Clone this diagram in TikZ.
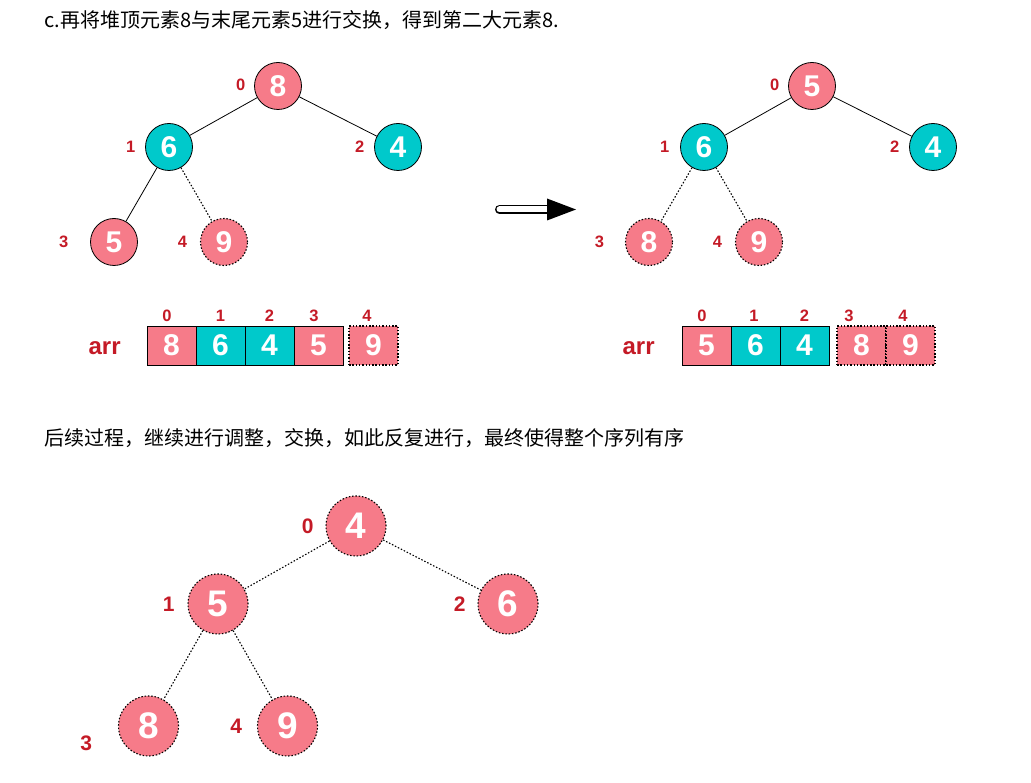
\documentclass[tikz,border=0pt]{standalone}
\usepackage{fontspec}
\setmainfont{Liberation Sans}
\newfontfamily\cjk{Noto Sans CJK SC}
\usetikzlibrary{positioning}

\definecolor{heappink}{RGB}{246,123,137}
\definecolor{heapteal}{RGB}{0,201,203}
\definecolor{idxred}{RGB}{196,26,38}

\tikzset{
  heap/.style={circle, draw, minimum size=47pt, inner sep=0pt, text=white, font=\bfseries\fontsize{30}{30}\selectfont},
  pinkheap/.style={heap, fill=heappink},
  tealheap/.style={heap, fill=heapteal},
  bigheap/.style={heap, fill=heappink, minimum size=60pt, font=\bfseries\fontsize{37}{37}\selectfont},
  loose/.style={dash pattern=on 1.5pt off 1.8pt, line width=1.1pt},
  idx/.style={inner sep=0pt, text height=11.8pt, text depth=0pt, text=idxred, font=\bfseries\fontsize{16.5}{16.5}\selectfont},
  bigidx/.style={idx, text height=15pt, font=\bfseries\fontsize{21}{21}\selectfont},
  cell/.style={rectangle, draw, minimum width=49pt, minimum height=39pt, inner sep=0pt, outer sep=0pt, text=white, font=\bfseries\fontsize{30}{30}\selectfont},
  pinkcell/.style={cell, fill=heappink},
  tealcell/.style={cell, fill=heapteal},
  arrname/.style={inner sep=0pt, text=idxred, font=\bfseries\fontsize{24}{24}\selectfont},
  caption/.style={anchor=west, inner sep=0pt, font=\cjk\fontsize{20}{20}\selectfont}
}

\begin{document}
\begin{tikzpicture}[x=1pt, y=1pt, line width=0.8pt]
\useasboundingbox (0,0) rectangle (1031,-783);

\node[caption] (title) at (44,-20) {c.再将堆顶元素8与末尾元素5进行交换，得到第二大元素8.};

% heap before the swap
\node[pinkheap] (lroot) at (278,-86) {8}
[level distance=61pt, sibling distance=229pt]
child[xshift=5.5pt] {node[tealheap] (lone) {6}
   [level distance=95pt, sibling distance=110pt]
   child {node[pinkheap] (lthree) {5}}
   child {node[pinkheap, loose] (lfour) {9} edge from parent[loose]}
}
child[xshift=5.5pt] {node[tealheap] (ltwo) {4}};

\node[idx, left=8.5pt of lroot, yshift=1.5pt] (li0) {0};
\node[idx, left=9.5pt of lone] (li1) {1};
\node[idx, left=9.5pt of ltwo] (li2) {2};
\node[idx, left=21.5pt of lthree] (li3) {3};
\node[idx, left=12.5pt of lfour] (li4) {4};

% array before the swap
\node[pinkcell] (la0) at (171.5,-345.5) {8};
\node[tealcell, right=0pt of la0] (la1) {6};
\node[tealcell, right=0pt of la1] (la2) {4};
\node[pinkcell, right=0pt of la2] (la3) {5};
\node[pinkcell, loose, right=6pt of la3] (la4) {9};
\node[arrname, left=26pt of la0, yshift=-2.5pt] (larr) {arr};
\foreach \i/\dx in {0/-4.5, 1/0, 2/0, 3/-4.5, 4/-6.5}
  \node[idx, above=4.5pt of la\i, xshift=\dx pt] (lai\i) {\i};

% arrow
\coordinate (arrtail) at (499.5,-209.5);
\coordinate (arrtip) at (576,-209.5);
\draw[line width=1.5pt, double=white, double distance=6pt, line cap=round] (arrtail) -- ([xshift=-27pt]arrtip);
\fill (arrtip) -- ++(-29,11) -- ++(0,-22) -- cycle;

% heap after the swap
\node[pinkheap] (rroot) at (812,-86) {5}
[level distance=61pt, sibling distance=229pt]
child[xshift=6.5pt] {node[tealheap] (rone) {6}
   [level distance=95pt, sibling distance=110pt]
   child {node[pinkheap, loose] (rthree) {8} edge from parent[loose]}
   child {node[pinkheap, loose] (rfour) {9} edge from parent[loose]}
}
child[xshift=6.5pt] {node[tealheap] (rtwo) {4}};

\node[idx, left=8.5pt of rroot, yshift=1.5pt] (ri0) {0};
\node[idx, left=10.5pt of rone] (ri1) {1};
\node[idx, left=9.5pt of rtwo] (ri2) {2};
\node[idx, left=20.5pt of rthree] (ri3) {3};
\node[idx, left=12.5pt of rfour] (ri4) {4};

% array after the swap
\node[pinkcell] (ra0) at (706.5,-345.5) {5};
\node[tealcell, right=0pt of ra0] (ra1) {6};
\node[tealcell, right=0pt of ra1] (ra2) {4};
\node[pinkcell, loose, right=8pt of ra2] (ra3) {8};
\node[pinkcell, loose, right=0pt of ra3] (ra4) {9};
\node[arrname, left=27pt of ra0, yshift=-2.5pt] (rarr) {arr};
\foreach \i/\dx in {0/-4.5, 1/-1.5, 2/0, 3/-12.5, 4/-7.5}
  \node[idx, above=4.5pt of ra\i, xshift=\dx pt] (rai\i) {\i};

\node[caption] (follow) at (44,-438) {后续过程，继续进行调整，交换，如此反复进行，最终使得整个序列有序};

% final heap
\node[bigheap, loose] (broot) at (356,-526) {4}
[level distance=78pt, sibling distance=290pt, edge from parent/.style={draw, loose}]
child[xshift=7pt] {node[bigheap, loose] (bone) {5}
   [level distance=122pt, sibling distance=139pt]
   child {node[bigheap, loose] (bthree) {8}}
   child {node[bigheap, loose] (bfour) {9}}
}
child[xshift=7pt] {node[bigheap, loose] (btwo) {6}};

\node[bigidx, left=11.5pt of broot] (bi0) {0};
\node[bigidx, left=12.5pt of bone] (bi1) {1};
\node[bigidx, left=11.5pt of btwo] (bi2) {2};
\node[bigidx, left=25.5pt of bthree, yshift=-17pt] (bi3) {3};
\node[bigidx, left=14.5pt of bfour] (bi4) {4};
\end{tikzpicture}
\end{document}
